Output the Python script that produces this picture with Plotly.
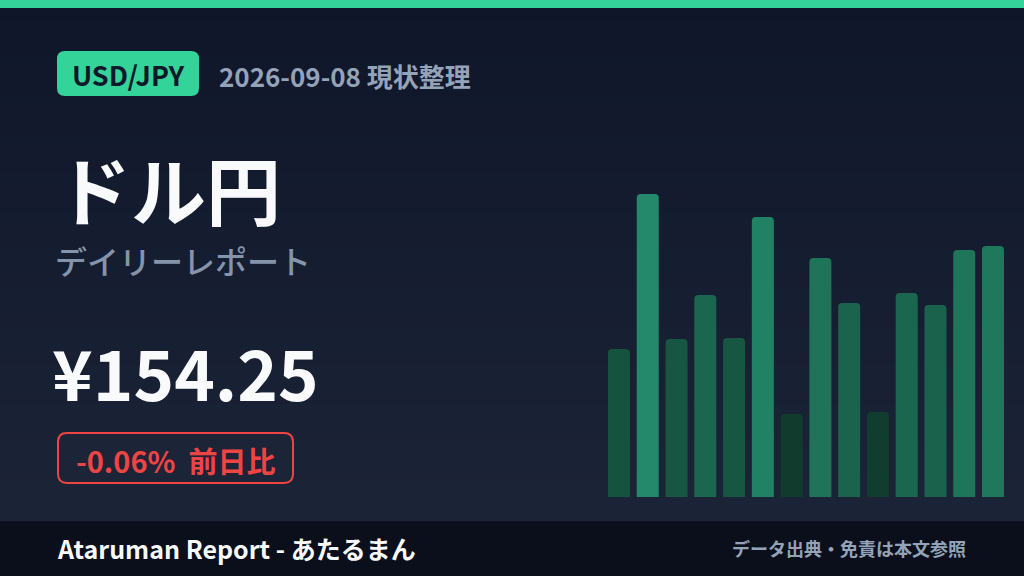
import plotly.graph_objects as go

W, H = 1024, 576

# ---- data ----
bar_labels = [f"D{i}" for i in range(1, 15)]
bar_values = [148, 303, 158, 202, 159, 280, 83, 239, 194, 85, 204, 192, 247, 251]
pair = "USD/JPY"
date_text = "2026-09-08 現状整理"
title = "ドル円"
subtitle = "デイリーレポート"
price_text = "¥154.25"
change_text = "-0.06%  前日比"
footer_left = "Ataruman Report - あたるまん"
footer_right = "データ出典・免責は本文参照"

JP = "Noto Sans CJK JP, Noto Sans, sans-serif"

def py(px):
    return 1 - px / H

def px_x(px):
    return px / W

fig = go.Figure()

# background gradient (heatmap on main axes, full paper)
fig.add_trace(go.Heatmap(
    z=[[0, 0], [1, 1]], x=[0, 1], y=[1, 0],
    colorscale=[[0, "#0f162a"], [1, "#1d2539"]],
    zsmooth="best", showscale=False, hoverinfo="skip",
    xaxis="x", yaxis="y",
))

# bars
vmin, vmax = min(bar_values), max(bar_values)
fig.add_trace(go.Bar(
    x=bar_labels, y=bar_values,
    marker=dict(color=bar_values, cmin=vmin, cmax=vmax,
                colorscale=[[0, "#113c2d"], [1, "#23896a"]],
                line=dict(width=0)),
    xaxis="x2", yaxis="y2", hoverinfo="skip",
))

bottom_px, top_px = 497, 177
fig.update_layout(
    width=W, height=H,
    margin=dict(l=0, r=0, t=0, b=0),
    paper_bgcolor="#141c30", plot_bgcolor="rgba(0,0,0,0)",
    showlegend=False,
    bargap=0.235,
    barcornerradius=4,
    xaxis=dict(domain=[0, 1], range=[0, 1], visible=False, fixedrange=True),
    yaxis=dict(domain=[0, 1], range=[0, 1], visible=False, fixedrange=True),
    xaxis2=dict(domain=[px_x(604.6), px_x(1007.4)], visible=False, anchor="y2"),
    yaxis2=dict(domain=[py(bottom_px), py(top_px)], range=[0, bottom_px - top_px],
                visible=False, anchor="x2"),
)

shapes = []
# top stripe
shapes.append(dict(type="rect", xref="paper", yref="paper", x0=0, x1=1, y0=py(8), y1=1,
                   fillcolor="#34d399", line=dict(width=0), layer="above"))
# footer
shapes.append(dict(type="rect", xref="paper", yref="paper", x0=0, x1=1, y0=0, y1=py(521),
                   fillcolor="#0b0f1b", line=dict(width=0), layer="above"))

def rounded_paper(x0, y0, x1, y1, r):
    segs = [("M", [(x0 + r, y0)]), ("L", [(x1 - r, y0)]), ("Q", [(x1, y0), (x1, y0 + r)]),
            ("L", [(x1, y1 - r)]), ("Q", [(x1, y1), (x1 - r, y1)]), ("L", [(x0 + r, y1)]),
            ("Q", [(x0, y1), (x0, y1 - r)]), ("L", [(x0, y0 + r)]), ("Q", [(x0, y0), (x0 + r, y0)])]
    out = []
    for cmd, pts in segs:
        out.append(cmd + " ".join(f"{a / W:.5f},{1 - b / H:.5f}" for a, b in pts))
    return " ".join(out) + " Z"

shapes.append(dict(type="path", xref="paper", yref="paper",
                   path=rounded_paper(57, 51, 199, 96, 8),
                   fillcolor="#34d399", line=dict(width=0), layer="above"))
shapes.append(dict(type="path", xref="paper", yref="paper",
                   path=rounded_paper(58, 433, 293, 483, 9),
                   fillcolor="rgba(30,38,56,0.6)", line=dict(color="#ef4444", width=2), layer="above"))
fig.update_layout(shapes=shapes)

ann = []
def text(x, y, s, size, color, weight="bold", xanchor="left", family=JP):
    ann.append(dict(x=x / W, y=py(y), xref="paper", yref="paper", text=s, showarrow=False,
                    xanchor=xanchor, yanchor="middle",
                    font=dict(family=family, size=size, color=color, weight=weight)))

text(128, 74, pair, 27, "#0f172a", xanchor="center")
text(217, 76, date_text, 26, "#94a3b8")
text(54, 187, title, 75, "#f8fafc")
text(53, 260, subtitle, 32, "#8594ab", weight=500)
text(50, 371, price_text, 69, "#f8fafc")
text(176, 460, change_text, 29, "#ef4444", xanchor="center")
text(55, 548, footer_left, 25, "#f8fafc")
text(968, 548, footer_right, 18, "#94a3b8", xanchor="right")
fig.update_layout(annotations=ann)

fig.write_html("out.html", config={"displayModeBar": False},
               post_script="document.body.style.margin='0';")
